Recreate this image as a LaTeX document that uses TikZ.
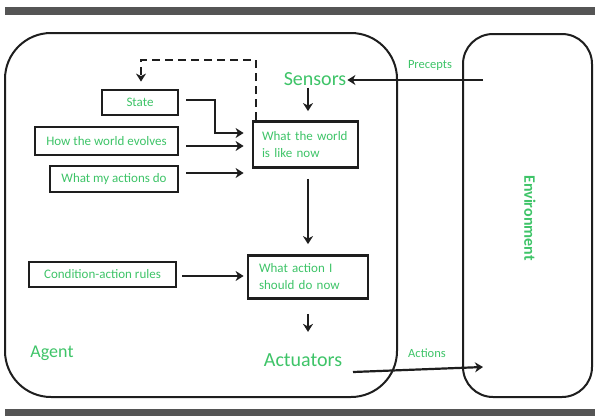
\documentclass[tikz,border=0pt]{standalone}
\usepackage{fontspec}
\setmainfont{Carlito}
\usetikzlibrary{arrows.meta,positioning}

\definecolor{lbl}{RGB}{62,196,104}
\definecolor{ink}{RGB}{30,30,30}
\definecolor{rule}{RGB}{85,85,85}

\tikzset{
  blockbox/.style={draw=ink, line width=2.8pt, text=lbl, font=\fontsize{13}{17}\selectfont,
                   inner sep=0pt, anchor=center},
  notebox/.style={blockbox, align=left, text width=#1},
  bigword/.style={text=lbl, font=\fontsize{20}{22}\selectfont, inner sep=1pt},
  smallword/.style={text=lbl, font=\fontsize{12.5}{14}\selectfont, inner sep=0pt},
  frame/.style={draw=ink, line width=2pt, inner sep=0pt},
  flow/.style={draw=ink, line width=2.2pt, -{Stealth[length=8pt,width=10pt,inset=2.5pt]}},
  loopback/.style={flow, dash pattern=on 8pt off 5pt},
}

\begin{document}
\begin{tikzpicture}[x=1pt,y=-1pt]
  \useasboundingbox (0,0) rectangle (595,416);
  \fill[white] (0,0) rectangle (595,416);

  % page rules
  \fill[rule] (5,7) rectangle (595,15);
  \fill[rule] (5,409) rectangle (595,416);

  % agent and environment outlines
  \node[frame, rounded corners=46pt, minimum width=392pt, minimum height=364pt] (agent) at (201,215) {};
  \node[frame, rounded corners=30pt, minimum width=129pt, minimum height=363pt] (env) at (527.5,215.5) {};

  % labels
  \node[bigword] (sensors) at (315,79) {Sensors};
  \node[bigword] (actuators) at (303,360) {Actuators};
  \node[bigword, font=\fontsize{18}{20}\selectfont] (agentlbl) at (52,353) {Agent};
  \node[smallword] (percepts) at (430,65) {Precepts};
  \node[smallword] (actions) at (427,353) {Actions};
  \node[text=lbl, font=\bfseries\fontsize{16}{18}\selectfont, rotate=-90] (envlbl) at (530,218) {Environment};

  % internal blocks
  \node[blockbox, minimum width=76pt, minimum height=25pt] (state) at (140,102.5) {State};
  \node[blockbox, minimum width=143pt, minimum height=28pt] (evolves) at (106.5,141) {How the world evolves};
  \node[blockbox, minimum width=128pt, minimum height=26pt] (effects) at (114,179) {What my actions do};
  \node[blockbox, minimum width=147pt, minimum height=25pt] (rules) at (102.5,274.5) {Condition-action rules};
  \node[notebox=87pt, minimum width=105pt, minimum height=46pt] (world) at (305.5,144.5) {What the world\\is like now};
  \node[notebox=98pt, minimum width=120pt, minimum height=43pt] (decide) at (308,277) {What action I\\should do now};

  % free ends and bends
  \coordinate (penv) at (483,80);
  \coordinate (aenv) at (483,367);
  \coordinate (aout) at (353,372);
  \coordinate (loop) at (141,60);
  \coordinate (sbend) at (215,133);

  % connectors
  \draw[flow] (penv) -- (penv -| sensors.east);
  \draw[flow, shorten <=1pt, shorten >=9pt] ([xshift=-7pt]sensors.south) -- ([xshift=2.5pt]world.north);
  \draw[loopback, shorten >=7pt] ([xshift=4pt]world.north west) |- (loop) -- (state.north -| loop);
  \draw[flow, shorten >=8pt] ([xshift=7pt,yshift=2.5pt]state.east) -| (sbend) -- (sbend -| world.west);
  \draw[flow, shorten >=8pt] ([xshift=7pt,yshift=-5pt]evolves.east) -- ([yshift=-5pt]evolves.east -| world.west);
  \draw[flow, shorten >=8pt] ([xshift=7pt,yshift=6pt]effects.east) -- ([yshift=6pt]effects.east -| world.west);
  \draw[flow, shorten <=10pt, shorten >=10pt] ([xshift=2.5pt]world.south) -- (decide.north);
  \draw[flow, shorten <=5pt, shorten >=3pt] ([yshift=-1.5pt]rules.east) -- ([yshift=-1.5pt]rules.east -| decide.west);
  \draw[flow, shorten <=14pt] (decide.south) -- ++(0,32);
  \draw[flow] (aout) -- (aenv);
\end{tikzpicture}
\end{document}
